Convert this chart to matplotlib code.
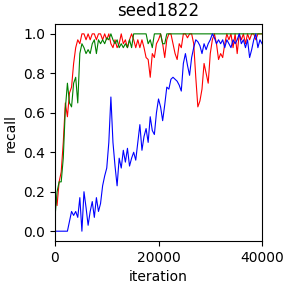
import numpy as np
import matplotlib
matplotlib.use('Agg')
import matplotlib.pyplot as plt

step = 400
red = [0.20, 0.13, 0.25, 0.30, 0.45, 0.65, 0.58, 0.70, 0.73, 0.85,
       0.93, 0.97, 0.95, 1.00, 1.00, 0.97, 1.00, 0.97, 1.00, 1.00,
       0.97, 1.00, 1.00, 0.97, 1.00, 0.97, 1.00, 0.95, 0.93, 0.97,
       0.93, 0.95, 1.00, 0.95, 0.97, 0.93, 0.97, 1.00, 0.97, 0.93,
       0.97, 0.93, 0.97, 0.93, 0.88, 0.87, 0.78, 0.90, 0.88, 0.95,
       0.97, 1.00, 0.95, 0.88, 0.97, 1.00, 1.00, 0.95, 0.90, 0.87,
       0.95, 0.93, 1.00, 1.00, 0.98, 1.00, 1.00, 0.95, 0.78, 0.63,
       0.66, 0.72, 0.85, 0.80, 0.75, 0.90, 0.97, 1.00, 0.95, 0.87,
       0.90, 0.88, 0.95, 1.00, 0.97, 1.00, 0.93, 1.00, 0.90, 1.00,
       0.97, 1.00, 0.95, 1.00, 0.97, 1.00, 1.00, 0.97, 1.00, 1.00,
       1.00]
green = [0.07, 0.20, 0.25, 0.25, 0.37, 0.62, 0.75, 0.65, 0.63, 0.75,
         0.78, 0.65, 0.90, 0.95, 0.93, 0.90, 0.92, 0.90, 0.95, 0.97,
         0.90, 0.97, 0.95, 0.97, 0.95, 0.98, 0.97, 1.00, 0.97, 0.95,
         0.97, 0.93, 0.95, 0.93, 0.95, 0.93, 0.97, 0.93, 1.00, 1.00,
         1.00, 1.00, 1.00, 1.00, 1.00, 0.95, 0.97, 0.93, 1.00, 1.00,
         1.00, 1.00, 0.95, 0.95, 1.00, 1.00, 1.00, 1.00, 1.00, 1.00,
         1.00, 1.00, 1.00, 1.00, 1.00, 1.00, 1.00, 1.00, 1.00, 1.00,
         1.00, 1.00, 1.00, 1.00, 1.00, 1.00, 1.00, 1.00, 1.00, 1.00,
         1.00, 1.00, 1.00, 1.00, 1.00, 1.00, 1.00, 1.00, 1.00, 1.00,
         1.00, 1.00, 1.00, 1.00, 1.00, 1.00, 1.00, 1.00, 1.00, 1.00,
         1.00]
blue = [0.00, 0.00, 0.00, 0.00, 0.00, 0.00, 0.00, 0.05, 0.10, 0.08,
        0.10, 0.07, 0.17, 0.00, 0.20, 0.12, 0.03, 0.10, 0.15, 0.07,
        0.17, 0.10, 0.14, 0.23, 0.28, 0.32, 0.45, 0.68, 0.45, 0.33,
        0.23, 0.37, 0.32, 0.41, 0.35, 0.42, 0.33, 0.37, 0.40, 0.36,
        0.45, 0.54, 0.41, 0.48, 0.52, 0.45, 0.58, 0.51, 0.49, 0.60,
        0.67, 0.63, 0.56, 0.64, 0.73, 0.72, 0.77, 0.78, 0.77, 0.76,
        0.74, 0.71, 0.85, 0.90, 0.84, 0.79, 0.88, 0.93, 0.97, 0.96,
        0.94, 0.90, 0.95, 0.92, 0.95, 0.97, 1.00, 0.98, 0.95, 0.97,
        0.95, 0.97, 0.93, 0.97, 0.95, 0.93, 0.97, 0.95, 0.97, 1.00,
        0.95, 0.97, 0.93, 0.97, 0.88, 0.92, 0.97, 1.00, 0.93, 0.97,
        0.95]
it = np.arange(len(red)) * step

fig = plt.figure(figsize=(2.87, 2.88), dpi=100)
ax = fig.add_axes([0.1916, 0.163, 0.7214, 0.7537])
ax.plot(it, red, 'r-', lw=0.8)
ax.plot(it, green, 'g-', lw=0.8)
ax.plot(it, blue, 'b-', lw=0.8)
ax.set_xlim(0, 40000)
ax.set_xticks([0, 20000, 40000])
ax.set_xlabel('iteration')
ax.set_ylabel('recall')
ax.set_title('seed1822')
fig.savefig('out.png', dpi=100)
